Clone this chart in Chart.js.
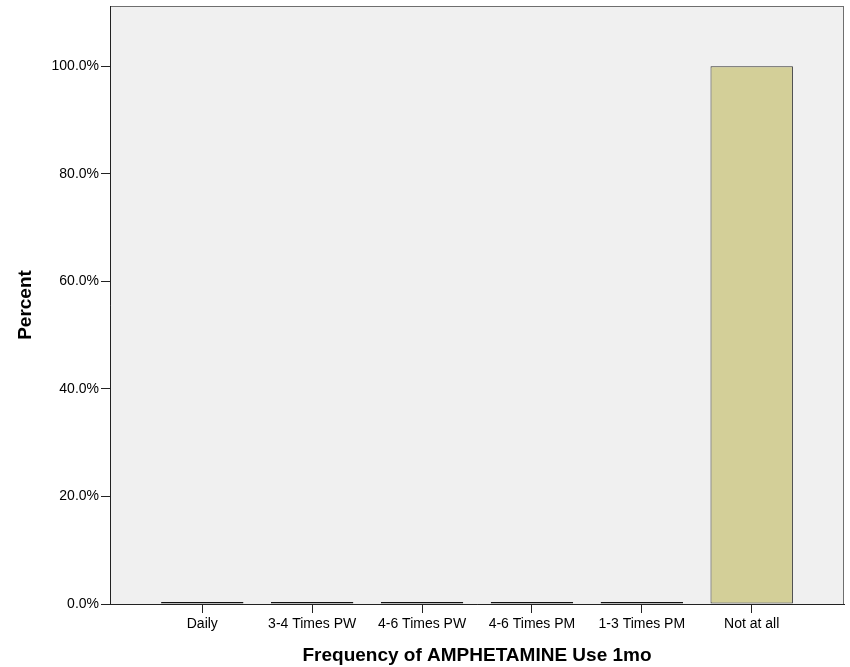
<!DOCTYPE html>
<html>
<head>
<meta charset="utf-8">
<script src="https://cdn.jsdelivr.net/npm/chart.js@4"></script>
<style>
  html, body { margin: 0; padding: 0; background: #fff; }
  #wrap { width: 850px; height: 667px; }
</style>
</head>
<body>
<div id="wrap"><canvas id="myChart1" width="850" height="667"></canvas></div>
<script>
const categories = ["Daily", "3-4 Times PW", "4-6 Times PW", "4-6 Times PM", "1-3 Times PM", "Not at all"];
const percents = [0, 0, 0, 0, 0, 100];
const yTicks = [0, 20, 40, 60, 80, 100];

// plot background + frame
const plotBox = {
  id: 'plotBox',
  beforeDraw(chart) {
    const { ctx, chartArea: a } = chart;
    ctx.save();
    ctx.fillStyle = '#f0f0f0';
    ctx.fillRect(a.left, a.top, a.right - a.left, a.bottom - a.top);
    ctx.strokeStyle = '#6e6e6e';
    ctx.lineWidth = 1;
    ctx.strokeRect(a.left + 0.5, a.top + 0.5, a.right - a.left - 1, a.bottom - a.top);
    ctx.restore();
  }
};

const data = {
  datasets: [{
    label: 'Percent',
    data: percents.map((v, i) => ({ x: i, y: v })),
    backgroundColor: percents.map(v => v > 0 ? '#d3cf98' : '#111'),
    borderColor: percents.map(v => v > 0 ? '#2e2e2e' : '#111'),
    borderWidth: 1,
    borderSkipped: false,
    minBarLength: 2,
    barPercentage: 0.75,
    categoryPercentage: 1
  }]
};

const font = 'Arial, "Liberation Sans"';

const config = {
  type: 'bar',
  data: data,
  plugins: [plotBox],
  options: {
    responsive: false,
    animation: false,
    layout: { padding: { top: 6, right: 6, left: 14, bottom: 0 } },
    plugins: { legend: { display: false }, tooltip: { enabled: false } },
    scales: {
      x: {
        type: 'linear',
        offset: false,
        min: -0.84,
        max: 5.84,
        afterBuildTicks: s => { s.ticks = categories.map((c, i) => ({ value: i })); },
        afterFit: s => { s.height = 63; s.paddingLeft = 0; s.paddingRight = 0; },
        border: { color: '#222', width: 1 },
        grid: { display: true, offset: false, drawOnChartArea: false, tickLength: 9, color: '#222' },
        ticks: {
          callback: v => categories[v],
          color: '#000',
          font: { family: font, size: 14 },
          padding: 3,
          maxRotation: 0,
          autoSkip: false
        },
        title: {
          display: true,
          text: 'Frequency of AMPHETAMINE Use 1mo',
          color: '#000',
          font: { family: font, size: 19, weight: 'bold' },
          padding: { top: 0, bottom: 0 }
        }
      },
      y: {
        min: 0,
        max: 111.2,
        afterBuildTicks: s => { s.ticks = yTicks.map(v => ({ value: v })); },
        afterFit: s => { s.width = 96; s.paddingTop = 0; s.paddingBottom = 0; },
        border: { color: '#222', width: 1 },
        grid: { display: true, drawOnChartArea: false, tickLength: 9, color: '#222' },
        ticks: {
          callback: v => v.toFixed(1) + '%',
          color: '#000',
          font: { family: font, size: 14 },
          padding: 2
        },
        title: {
          display: true,
          text: 'Percent',
          color: '#000',
          font: { family: font, size: 19, weight: 'bold' },
          padding: { top: 0, bottom: 0 }
        }
      }
    }
  }
};

const myChart1 = new Chart(document.getElementById("myChart1"), config);
</script>
</body>
</html>
